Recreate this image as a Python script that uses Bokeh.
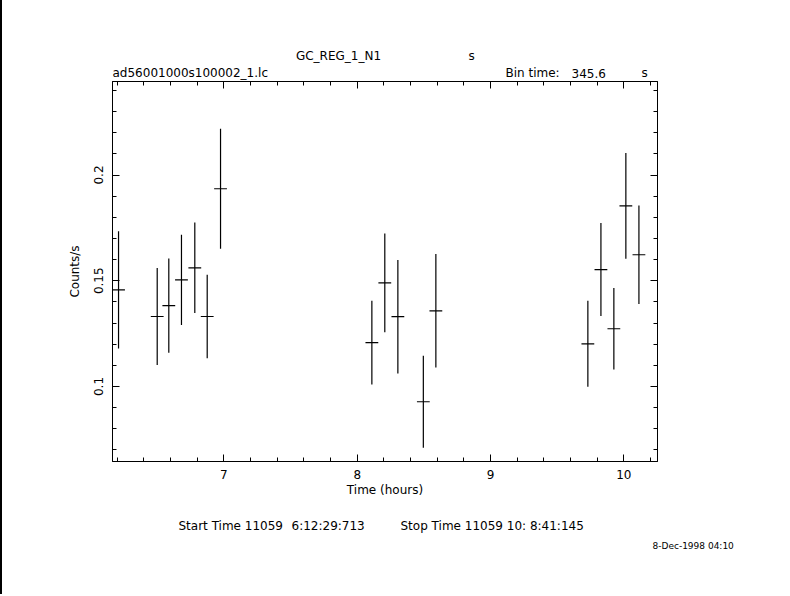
import numpy as np
from bokeh.plotting import figure
from bokeh.models import (LinearAxis, FixedTicker, Label, ColumnDataSource,
                          Range1d, CustomJSTickFormatter)
from bokeh.embed import file_html
from bokeh.resources import INLINE

# ---------------- data ----------------
time_h = [6.210, 6.500, 6.587, 6.682, 6.782, 6.875, 6.975,
          8.110, 8.207, 8.305, 8.496, 8.590,
          9.730, 9.828, 9.925, 10.015, 10.113]
rate = [0.1457, 0.1331, 0.1382, 0.1504, 0.1561, 0.1331, 0.1935,
        0.1207, 0.1490, 0.1330, 0.0928, 0.1358,
        0.1202, 0.1553, 0.1273, 0.1854, 0.1623]
rate_err = [0.0277, 0.0229, 0.0223, 0.0213, 0.0214, 0.0197, 0.0284,
            0.0198, 0.0233, 0.0268, 0.0217, 0.0268,
            0.0203, 0.0220, 0.0193, 0.0250, 0.0233]
bin_time_s = 345.6

x_major = [7, 8, 9, 10]
y_major = [0.1, 0.15, 0.2]
y_labels = {0.1: "0.1", 0.15: "0.15", 0.2: "0.2"}

title_main = "GC_REG_1_N1"
title_unit = "s"
file_name = "ad56001000s100002_1.lc"
bin_label = "Bin time:"
bin_value = "345.6"
bin_unit = "s"
start_text = "Start Time 11059"
start_clock = "6:12:29:713"
stop_text = "Stop Time 11059 10: 8:41:145"
date_text = "8-Dec-1998 04:10"
x_title = "Time (hours)"
y_title = "Counts/s"

# ---------------- layout ----------------
EDGE = 2                                   # black line at the left page edge
W, H = 786, 594
FL, FT, FW, FH = 112, 81, 545, 380          # frame in page pixels
XR = (6.1647, 10.2523)
YR = (0.06454, 0.24421)
FONT = "DejaVu Sans"

half_bin = bin_time_s / 3600.0 / 2.0
src = ColumnDataSource(dict(
    t=time_h, r=rate,
    lo=[v - e for v, e in zip(rate, rate_err)],
    hi=[v + e for v, e in zip(rate, rate_err)],
    tl=[t - half_bin for t in time_h],
    tr=[t + half_bin for t in time_h],
))

p = figure(width=W, height=H, output_backend="svg", toolbar_location=None,
           x_range=Range1d(*XR), y_range=Range1d(*YR),
           min_border_left=FL - EDGE, min_border_top=FT,
           min_border_right=W - (FL - EDGE) - FW, min_border_bottom=H - FT - FH,
           background_fill_color="white", border_fill_color="white")
p.styles = {"border-left": f"{EDGE}px solid black"}
p.xgrid.visible = False
p.ygrid.visible = False
p.outline_line_color = "black"
p.outline_line_width = 1

p.segment(x0="t", y0="lo", x1="t", y1="hi", source=src, line_color="black", line_width=1.2)
p.segment(x0="tl", y0="r", x1="tr", y1="r", source=src, line_color="black", line_width=1.2)

x_minor = list(np.round(np.arange(6.2, 10.21, 0.2), 2))
y_minor = list(np.round(np.arange(0.07, 0.241, 0.01), 2))


def style(ax):
    ax.axis_line_color = "black"
    ax.major_tick_in = 7
    ax.major_tick_out = 0
    ax.minor_tick_in = 4
    ax.minor_tick_out = 0
    ax.major_tick_line_color = "black"
    ax.minor_tick_line_color = "black"
    ax.major_label_text_font = FONT
    ax.major_label_text_font_size = "12px"
    ax.major_label_text_color = "black"
    ax.axis_label_text_font = FONT
    ax.axis_label_text_font_size = "12px"
    ax.axis_label_text_font_style = "normal"
    ax.axis_label_text_color = "black"


xa = p.xaxis[0]
xa.ticker = FixedTicker(ticks=x_major, minor_ticks=x_minor)
style(xa)
xa.major_label_standoff = 8
xa.axis_label = x_title
xa.axis_label_standoff = 1

ya = p.yaxis[0]
ya.ticker = FixedTicker(ticks=y_major, minor_ticks=y_minor)
style(ya)
ya.major_label_orientation = "vertical"
ya.major_label_overrides = y_labels
ya.major_label_standoff = 9
ya.axis_label = y_title
ya.axis_label_standoff = 10

blank = CustomJSTickFormatter(code="return ''")
top = LinearAxis(ticker=FixedTicker(ticks=x_major, minor_ticks=x_minor), formatter=blank)
style(top)
top.major_label_standoff = 0
p.add_layout(top, "above")
right = LinearAxis(ticker=FixedTicker(ticks=y_major, minor_ticks=y_minor), formatter=blank)
style(right)
right.major_label_standoff = 0
p.add_layout(right, "right")


def add_text(text, px, py, panel, size="12px", align="left"):
    # labels live in side panels (not clipped to the frame); canvas units
    lab = Label(x=px - EDGE, y=py, x_units="canvas", y_units="canvas", text=text,
                text_font=FONT, text_font_size=size, text_color="black",
                text_align=align, text_baseline="middle")
    p.add_layout(lab, panel)


add_text(title_main, 336, 55.5, "above", align="center")
add_text(title_unit, 466, 55.5, "above")
add_text(file_name, 110, 72.5, "above")
add_text(bin_label, 503, 72.5, "right")
add_text(bin_value, 569, 72.5, "right")
add_text(bin_unit, 639, 72.5, "right")
add_text(start_text, 176, 525, "below")
add_text(start_clock, 289, 525, "below")
add_text(stop_text, 398, 525, "below")
add_text(date_text, 650, 545, "below", size="9px")

open("out.html", "w").write(file_html(p, INLINE))
